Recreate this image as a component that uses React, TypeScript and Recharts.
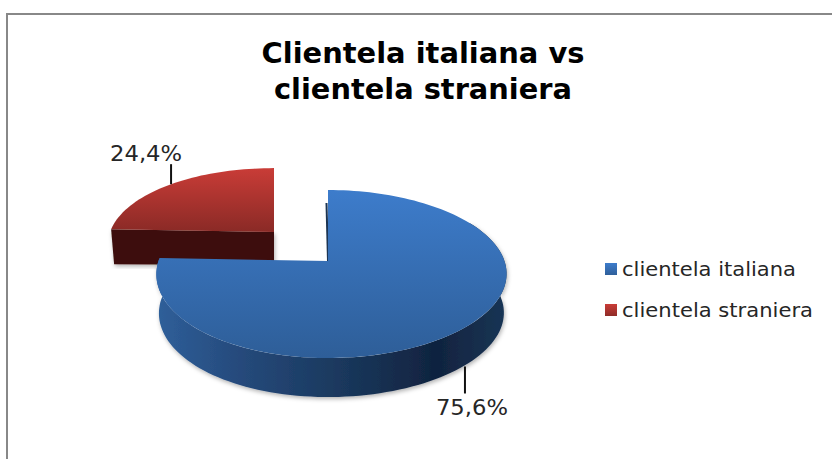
import React from "react";
import { PieChart, Pie, Legend } from "recharts";

// Chart content
const titleLines = ["Clientela italiana vs", "clientela straniera"];
const categories = ["clientela straniera", "clientela italiana"];
const shares = [24.4, 75.6];
const fills = ["url(#redTop)", "url(#blueTop)"];
const sideFills = ["#3d100c", "url(#blueSide)"];

const tableRows = categories.map((name, i) => ({
  name,
  value: shares[i],
  fill: fills[i],
  side: sideFills[i],
}));

// Perspective of the tilted disc
const PIE_X = 328;
const PIE_Y = 261;
const RADIUS = 173;
const TILT = 82 / 173;
const PERSPECTIVE = 0.155;
const WIDEN = 0.02;
const DEPTH = 39;

// Placement of each slice around the pie centre
const sliceLayout: Record<string, any> = {
  "clientela italiana": { dx: 0, dy: 0, kx: 1, ky: 1, textDx: 7, textY: 415, lineLen: 27 },
  "clientela straniera": { dx: -54, dy: -29, kx: 0.967, ky: 0.9, depth: 33, textDx: -25, textY: 161, lineLen: -20 },
};

const project = (layout: any, cx: number, cy: number, r: number, deg: number, drop = 0, shrink = 1) => {
  const a = (deg * Math.PI) / 180;
  const u = Math.cos(a);
  const v = -Math.sin(a);
  const s = 1 / (1 - PERSPECTIVE * v);
  return {
    x: cx + layout.dx + r * layout.kx * shrink * u * s * (1 + WIDEN * u),
    y: cy + layout.dy + drop + r * TILT * layout.ky * v * s,
  };
};

const arcPoints = (layout: any, cx: number, cy: number, r: number, from: number, to: number, drop = 0, shrink = 1) => {
  const steps = Math.max(8, Math.ceil(Math.abs(to - from) / 2));
  const pts = [];
  for (let i = 0; i <= steps; i++) {
    pts.push(project(layout, cx, cy, r, from + ((to - from) * i) / steps, drop, shrink));
  }
  return pts;
};

const toPath = (pts: { x: number; y: number }[]) =>
  pts.map((p, i) => `${i ? "L" : "M"}${p.x.toFixed(2)} ${p.y.toFixed(2)}`).join(" ") + " Z";

// Extruded slice: side wall first, then the top face
const Slice3D = (props: any) => {
  const { cx, cy, outerRadius, startAngle, endAngle, name, fill, side } = props;
  const layout = sliceLayout[name];
  const apex = project(layout, cx, cy, 0, 0);
  const top = [apex, ...arcPoints(layout, cx, cy, outerRadius, startAngle, endAngle)];
  let wall;
  if (layout.depth) {
    // the wall seen here is the cut running from the rim to the apex
    const rimStart = project(layout, cx, cy, outerRadius, startAngle);
    wall = [
      rimStart,
      apex,
      { x: apex.x, y: apex.y + layout.depth },
      { x: rimStart.x + 3, y: rimStart.y + layout.depth + 2 },
    ];
  } else {
    const visibleFrom = 30;
    const rim = arcPoints(layout, cx, cy, outerRadius, visibleFrom, endAngle);
    const lower = arcPoints(layout, cx, cy, outerRadius, endAngle, visibleFrom, DEPTH, 0.985);
    wall = [...rim, ...lower];
  }
  return (
    <g>
      <path d={toPath(wall)} fill={side} filter="url(#softShadow)" />
      {!layout.depth && (
        <path
          d={`M${apex.x} ${apex.y} L${apex.x - 1.5} ${apex.y - 58}`}
          stroke="#1c3553"
          strokeWidth={2}
          fill="none"
        />
      )}
      <path d={toPath(top)} fill={fill} />
    </g>
  );
};

// Leader line plus value text
const ValueLabel = (props: any) => {
  const { cx, cy, outerRadius, midAngle, name, value } = props;
  const layout = sliceLayout[name];
  const anchor = project(layout, cx, cy, outerRadius, midAngle, layout.depth ? 0 : DEPTH);
  return (
    <g>
      <line
        x1={anchor.x}
        y1={anchor.y}
        x2={anchor.x}
        y2={anchor.y + layout.lineLen}
        stroke="#111"
        strokeWidth={2}
      />
      <text
        x={anchor.x + layout.textDx}
        y={layout.textY}
        textAnchor="middle"
        fontFamily="DejaVu Sans"
        fontSize={21}
        fill="#262626"
        textLength={72}
        lengthAdjust="spacingAndGlyphs"
      >
        {value.toFixed(1).replace(".", ",")}%
      </text>
    </g>
  );
};

const legendWidths: Record<string, number> = {
  "clientela italiana": 174,
  "clientela straniera": 191,
};

const LegendList = ({ payload }: any) => (
  <svg width={225} height={84} style={{ display: "block" }}>
    {(payload || []).map((entry: any, i: number) => (
      <g key={entry.value} transform={`translate(0 ${8 + i * 41})`}>
        <rect x={0} y={2} width={12} height={12} fill={i === 0 ? "url(#blueKey)" : "url(#redKey)"} />
        <text
          x={17}
          y={15}
          fontFamily="DejaVu Sans"
          fontSize={19.5}
          fill="#262626"
          textLength={legendWidths[entry.value]}
          lengthAdjust="spacingAndGlyphs"
        >
          {entry.value}
        </text>
      </g>
    ))}
    <defs>
      <linearGradient id="blueKey" x1="0" y1="0" x2="0" y2="1">
        <stop offset="0" stopColor="#3d7ccb" />
        <stop offset="1" stopColor="#2f5f9a" />
      </linearGradient>
      <linearGradient id="redKey" x1="0" y1="0" x2="0" y2="1">
        <stop offset="0" stopColor="#c93c37" />
        <stop offset="1" stopColor="#8f2c28" />
      </linearGradient>
    </defs>
  </svg>
);

export default function App() {
  return (
    <div style={{ position: "absolute", left: 0, top: 0, width: 832, height: 459, overflow: "hidden", background: "#fff" }}>
      <div
        style={{
          position: "absolute",
          left: 6,
          top: 13,
          width: 840,
          height: 460,
          border: "2px solid #888",
          boxSizing: "border-box",
        }}
      />
      <div style={{ position: "absolute", left: 0, top: 0 }}>
        <PieChart width={832} height={459} margin={{ top: 0, right: 0, bottom: 0, left: 0 }}>
          <defs>
            <linearGradient id="blueTop" x1="0" y1="0" x2="0" y2="1">
              <stop offset="0" stopColor="#3d7ccb" />
              <stop offset="1" stopColor="#2e5e98" />
            </linearGradient>
            <linearGradient id="redTop" x1="0" y1="0" x2="0" y2="1">
              <stop offset="0" stopColor="#c93c37" />
              <stop offset="1" stopColor="#8a2a26" />
            </linearGradient>
            <linearGradient id="blueSide" x1="0" y1="0" x2="1" y2="0">
              <stop offset="0" stopColor="#2f5f9a" />
              <stop offset="0.25" stopColor="#25497a" />
              <stop offset="0.5" stopColor="#1b3a60" />
              <stop offset="0.8" stopColor="#10233f" />
              <stop offset="1" stopColor="#1a3555" />
            </linearGradient>
            <filter id="softShadow" x="-5%" y="-5%" width="110%" height="115%">
              <feDropShadow dx={1} dy={2} stdDeviation={2} floodColor="#000" floodOpacity={0.3} />
            </filter>
          </defs>
          {titleLines.map((line, i) => (
            <text
              key={line}
              x={423}
              y={63 + i * 36}
              textAnchor="middle"
              fontFamily="DejaVu Sans"
              fontWeight="bold"
              fontSize={29}
              fill="#000"
              textLength={i === 0 ? 323 : 298}
              lengthAdjust="spacingAndGlyphs"
            >
              {line}
            </text>
          ))}
          <Pie
            data={tableRows}
            dataKey="value"
            nameKey="name"
            cx={PIE_X}
            cy={PIE_Y}
            innerRadius={0}
            outerRadius={RADIUS}
            startAngle={90 + (360 * shares[0]) / 100}
            endAngle={90 + (360 * shares[0]) / 100 - 360}
            stroke="none"
            shape={Slice3D}
            label={ValueLabel}
            labelLine={false}
            isAnimationActive={false}
          />
          <Legend
            layout="vertical"
            align="center"
            verticalAlign="middle"
            content={LegendList}
            wrapperStyle={{ left: 605, top: 253, width: 225 }}
          />
        </PieChart>
      </div>
    </div>
  );
}
